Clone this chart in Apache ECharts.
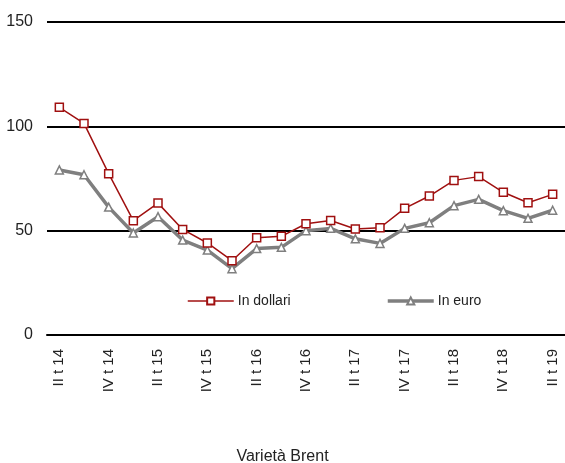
<!DOCTYPE html>
<html>
<head>
<meta charset="utf-8">
<script src="https://cdn.jsdelivr.net/npm/echarts@6/dist/echarts.min.js"></script>
<style>
  html, body { margin: 0; padding: 0; background: #fff; }
  #chart { width: 565px; height: 463px; }
</style>
</head>
<body>
<div id="chart"></div>
<script>
// trimestri (II t 14 ... II t 19)
const quarters = [
  'II t 14', 'III t 14', 'IV t 14',
  'I t 15', 'II t 15', 'III t 15', 'IV t 15',
  'I t 16', 'II t 16', 'III t 16', 'IV t 16',
  'I t 17', 'II t 17', 'III t 17', 'IV t 17',
  'I t 18', 'II t 18', 'III t 18', 'IV t 18',
  'I t 19', 'II t 19'
]
const inDollari = [109.1, 101.4, 77.3, 54.8, 63.2, 50.6, 44.1, 35.6, 46.6, 47.3, 53.3,
  54.9, 50.8, 51.4, 60.7, 66.6, 74.1, 75.9, 68.4, 63.4, 67.4]
const inEuro = [79.1, 76.8, 61.3, 48.9, 56.7, 45.5, 40.7, 31.8, 41.4, 42.0, 50.0,
  51.1, 46.1, 43.9, 51.1, 53.8, 62.0, 65.0, 59.6, 55.9, 59.8]
const yTicks = [0, 50, 100, 150]

const font = "'Liberation Sans Narrow', 'Liberation Sans', Arial, sans-serif"
const chart = echarts.init(document.getElementById('chart'))

const option = {
  animation: false,
  textStyle: { fontFamily: font },
  title: {
    text: 'Varietà Brent',
    left: 'center',
    top: 444,
    textStyle: { fontFamily: font, fontSize: 16, fontWeight: 'normal', color: '#222' }
  },
  legend: [
    {
      data: [{ name: 'In dollari', lineStyle: { width: 1.5 } }],
      left: 182,
      top: 289,
      itemWidth: 46,
      itemHeight: 9,
      itemGap: 5,
      textStyle: { fontFamily: font, fontSize: 14, color: '#222', padding: [0, 0, 0, -1] }
    },
    {
      data: [{ name: 'In euro', lineStyle: { width: 3.5 } }],
      left: 381,
      top: 289,
      itemWidth: 46,
      itemHeight: 9,
      textStyle: { fontFamily: font, fontSize: 14, color: '#222', padding: [0, 0, 0, -1] }
    }
  ],
  grid: {
    left: 47,
    right: 0,
    top: 22,
    bottom: 128,
    containLabel: false
  },
  xAxis: {
    type: 'category',
    data: quarters,
    boundaryGap: true,
    axisLine: { lineStyle: { color: '#000', width: 2 } },
    axisTick: { interval: 1, length: 6, lineStyle: { color: '#000', width: 1.5 } },
    axisLabel: {
      interval: 1,
      rotate: 90,
      margin: 14,
      fontFamily: font,
      fontSize: 15,
      color: '#222'
    }
  },
  yAxis: {
    type: 'value',
    min: yTicks[0],
    max: yTicks[yTicks.length - 1],
    interval: 50,
    axisLine: { show: false },
    axisTick: { show: false },
    axisLabel: { margin: 14, fontFamily: font, fontSize: 16, color: '#222' },
    splitLine: { lineStyle: { color: '#000', width: 2 } }
  },
  series: [
    {
      name: 'In dollari',
      type: 'line',
      data: inDollari,
      symbol: 'rect',
      symbolSize: 8,
      lineStyle: { color: '#a01010', width: 1.5 },
      itemStyle: { color: '#fff', borderColor: '#a01010', borderWidth: 1.5 },
      z: 3
    },
    {
      name: 'In euro',
      type: 'line',
      data: inEuro,
      symbol: 'triangle',
      symbolSize: 8,
      lineStyle: { color: '#7f7f7f', width: 3.5 },
      itemStyle: { color: '#fff', borderColor: '#7f7f7f', borderWidth: 1.5 },
      z: 2
    }
  ]
}

chart.setOption(option)
</script>
</body>
</html>
